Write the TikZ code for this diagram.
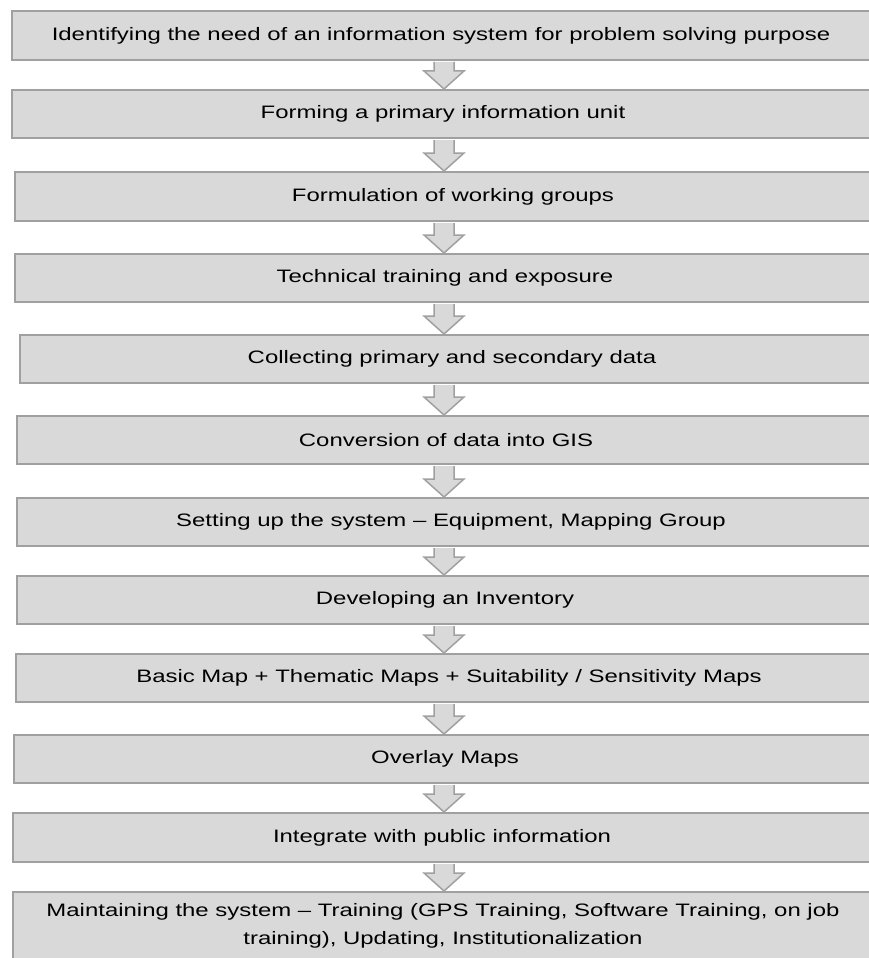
\documentclass[tikz,border=0pt]{standalone}
\usepackage{fontspec}
\setmainfont{Liberation Sans}[FakeStretch=1.33]
\usetikzlibrary{calc}
\definecolor{boxfill}{RGB}{217,217,217}
\definecolor{boxline}{RGB}{160,160,160}
\begin{document}
\begin{tikzpicture}[x=1pt,y=-1pt]
    \tikzset{stepbox/.style={draw=boxline,fill=boxfill,line width=2pt,inner sep=0pt,anchor=west,minimum height=48pt}}
    \tikzset{steptext/.style={inner sep=0pt,align=center,font=\fontsize{18}{28}\selectfont}}
    \tikzset{blockarrow/.style={draw=boxline,fill=boxfill,line width=1.5pt,line join=miter}}
    \fill[white] (0,0) rectangle (868,958);
    \useasboundingbox (0,0) rectangle (868,958);
    \coordinate (ax) at (444,0);
    \node[stepbox,minimum width=889pt,minimum height=49pt] (b1) at (11,35.5) {};
    \node[stepbox,minimum width=889pt] (b2) at (11,114) {};
    \node[stepbox,minimum width=886pt,minimum height=49pt] (b3) at (14,196.5) {};
    \node[stepbox,minimum width=886pt] (b4) at (14,278) {};
    \node[stepbox,minimum width=881pt] (b5) at (19,359) {};
    \node[stepbox,minimum width=884pt] (b6) at (16,440) {};
    \node[stepbox,minimum width=884pt] (b7) at (16,522) {};
    \node[stepbox,minimum width=884pt] (b8) at (16,600) {};
    \node[stepbox,minimum width=885pt] (b9) at (15,678) {};
    \node[stepbox,minimum width=887pt] (b10) at (13,759) {};
    \node[stepbox,minimum width=888pt,minimum height=49pt] (b11) at (12,837.5) {};
    \node[stepbox,minimum width=888pt,minimum height=68pt] (b12) at (12,926) {};
    \node[steptext] (t1) at (441,35.5) {Identifying the need of an information system for problem solving purpose};
    \node[steptext] (t2) at (443,114) {Forming a primary information unit};
    \node[steptext] (t3) at (453,196.5) {Formulation of working groups};
    \node[steptext] (t4) at (445,278) {Technical training and exposure};
    \node[steptext] (t5) at (452,359) {Collecting primary and secondary data};
    \node[steptext] (t6) at (446,440) {Conversion of data into GIS};
    \node[steptext] (t7) at (451,522) {Setting up the system -- Equipment, Mapping Group};
    \node[steptext] (t8) at (445,600) {Developing an Inventory};
    \node[steptext] (t9) at (449,678) {Basic Map + Thematic Maps + Suitability / Sensitivity Maps};
    \node[steptext] (t10) at (445,759) {Overlay Maps};
    \node[steptext] (t11) at (442,837.5) {Integrate with public information};
    \node[steptext] (t12) at (443,926) {Maintaining the system -- Training (GPS Training, Software Training, on job\\training), Updating, Institutionalization};
    \foreach \i [evaluate=\i as \j using int(\i+1)] in {1,...,11}{
        \coordinate (s) at ($(b\i.south -| ax)+(0,1)$);
        \coordinate (t) at (b\j.north -| ax);
        \draw[blockarrow] ($(s)+(-10,0)$) -- ($(t)+(-10,-18)$) -- ($(t)+(-20,-18)$) -- (t) -- ($(t)+(20,-18)$) -- ($(t)+(10,-18)$) -- ($(s)+(10,0)$);
    }
\end{tikzpicture}
\end{document}
